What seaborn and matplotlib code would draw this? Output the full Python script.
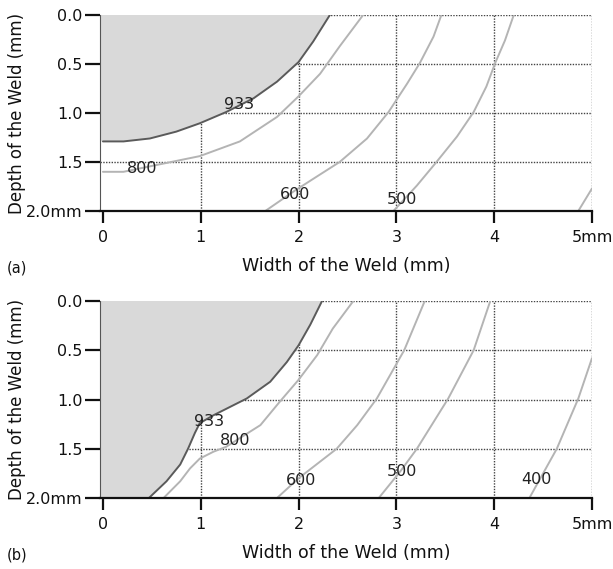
import matplotlib
matplotlib.use("Agg")
import matplotlib.pyplot as plt
import matplotlib.transforms as mtransforms
import seaborn as sns
import pandas as pd

sns.set_theme(style="white")
plt.rcParams['font.family'] = ['DejaVu Sans']

# ---- data: panel (a) ----
a933_x = [0, 0.21, 0.48, 0.75, 0.99, 1.26, 1.54, 1.78, 2.00, 2.15, 2.32]
a933_y = [1.29, 1.29, 1.26, 1.19, 1.105, 0.99, 0.85, 0.68, 0.48, 0.27, 0.0]
a800_x = [0, 0.21, 0.55, 0.99, 1.40, 1.78, 2.00, 2.22, 2.42, 2.66]
a800_y = [1.60, 1.60, 1.53, 1.44, 1.29, 1.04, 0.83, 0.60, 0.32, 0.0]
a600_x = [1.66, 1.95, 2.20, 2.42, 2.70, 2.92, 3.11, 3.24, 3.38, 3.46]
a600_y = [2.0, 1.80, 1.64, 1.50, 1.26, 0.99, 0.70, 0.49, 0.22, 0.0]
a500_x = [2.97, 3.21, 3.41, 3.62, 3.79, 3.92, 4.01, 4.11, 4.20]
a500_y = [2.0, 1.74, 1.50, 1.24, 0.99, 0.73, 0.49, 0.26, 0.0]
a400_x = [4.86, 5.0]
a400_y = [2.0, 1.77]

# ---- data: panel (b) ----
b933_x = [0.47, 0.65, 0.79, 0.87, 0.94, 0.99, 1.13, 1.33, 1.47, 1.71, 1.88, 2.00, 2.12, 2.24]
b933_y = [2.0, 1.83, 1.66, 1.50, 1.34, 1.24, 1.16, 1.06, 0.99, 0.82, 0.62, 0.45, 0.24, 0.0]
b800_x = [0.62, 0.79, 0.89, 0.99, 1.13, 1.26, 1.61, 1.81, 2.00, 2.19, 2.35, 2.56]
b800_y = [2.0, 1.83, 1.70, 1.60, 1.53, 1.48, 1.26, 1.02, 0.80, 0.55, 0.28, 0.0]
b600_x = [1.78, 2.00, 2.39, 2.60, 2.80, 3.08, 3.29]
b600_y = [2.0, 1.80, 1.50, 1.26, 0.99, 0.50, 0.0]
b500_x = [2.82, 3.04, 3.21, 3.53, 3.79, 3.96]
b500_y = [2.0, 1.73, 1.50, 0.99, 0.50, 0.0]
b400_x = [4.36, 4.64, 4.86, 5.0]
b400_y = [2.0, 1.50, 0.99, 0.58]

# curve label texts and positions
a_labels = ["933", "800", "600", "500"]
a_lab_x = [1.39, 0.40, 1.96, 3.06]
a_lab_y = [0.91, 1.57, 1.83, 1.88]
b_labels = ["933", "800", "600", "500", "400"]
b_lab_x = [1.08, 1.35, 2.03, 3.06, 4.43]
b_lab_y = [1.22, 1.42, 1.82, 1.73, 1.81]

x_ticks = [0, 1, 2, 3, 4, 5]
x_ticklabels = ["0", "1", "2", "3", "4", "5mm"]
y_ticks = [0.0, 0.5, 1.0, 1.5, 2.0]
y_ticklabels = ["0.0", "0.5", "1.0", "1.5", "2.0mm"]

XMIN = -0.03
DARK = "#5a5a5a"
LIGHT = "#b4b4b4"
FILL = "#d9d9d9"
FS = 11.5

fig = plt.figure(figsize=(6.13, 5.69), dpi=100)
ax_a = fig.add_axes([100/613, 1-211/569, 492/613, 196/569])
ax_b = fig.add_axes([100/613, 1-498/569, 492/613, 197/569])


def draw(ax, curves, labels, lx, ly, letter, flat_start):
    # dotted grid (under the fill)
    for xv in x_ticks[1:]:
        ax.axvline(xv, color="#444444", lw=1.0, ls=(0, (1, 1)), zorder=1)
    for yv in y_ticks[:-1]:
        ax.axhline(yv, color="#444444", lw=1.0, ls=(0, (1, 1)), zorder=1)
    # melt zone bounded by the 933 curve
    mx, my = curves[0]
    px = [XMIN] + list(mx) + [XMIN]
    py = ([my[0]] if flat_start else [2.0]) + list(my) + [0.0]
    ax.fill(px, py, color=FILL, zorder=2, lw=0)
    for i, (cx, cy) in enumerate(curves):
        df = pd.DataFrame({"x": cx, "y": cy})
        sns.lineplot(data=df, x="x", y="y", ax=ax, sort=False,
                     estimator=None, color=DARK if i == 0 else LIGHT,
                     lw=1.4, zorder=3)
    for t, x, y in zip(labels, lx, ly):
        ax.text(x, y, t, ha="center", va="center", fontsize=FS,
                color="#222222", zorder=4)
    ax.set_xlim(XMIN, 5.0)
    ax.set_ylim(2.0, 0.0)
    ax.set_xticks(x_ticks)
    ax.set_xticklabels(x_ticklabels)
    ax.set_yticks(y_ticks)
    ax.set_yticklabels(y_ticklabels)
    for s in ["top", "right"]:
        ax.spines[s].set_visible(False)
    ax.spines["left"].set_color("#555555")
    ax.spines["left"].set_linewidth(0.8)
    ax.spines["bottom"].set_color("#111111")
    ax.spines["bottom"].set_linewidth(1.6)
    ax.spines["bottom"].set_zorder(5)
    ax.tick_params(axis="x", length=8.5, width=1.6, color="#111111",
                   labelsize=FS, pad=5, bottom=True, labelcolor="#111111")
    ax.tick_params(axis="y", length=11, width=1.6, color="#111111",
                   labelsize=FS, pad=1.5, left=True, labelcolor="#111111")
    ax.set_xlabel("Width of the Weld (mm)", fontsize=12.5, labelpad=9,
                  color="#111111")
    ax.set_ylabel("Depth of the Weld (mm)", fontsize=12, labelpad=0,
                  color="#111111")
    ax.grid(False)
    ax.set_facecolor("white")
    tr = mtransforms.blended_transform_factory(fig.transFigure, ax.transAxes)
    ax.text(7/613, -0.29, letter, transform=tr, fontsize=10.5,
            ha="left", va="center", color="#111111")


draw(ax_a,
     [(a933_x, a933_y), (a800_x, a800_y), (a600_x, a600_y),
      (a500_x, a500_y), (a400_x, a400_y)],
     a_labels, a_lab_x, a_lab_y, "(a)", True)
draw(ax_b,
     [(b933_x, b933_y), (b800_x, b800_y), (b600_x, b600_y),
      (b500_x, b500_y), (b400_x, b400_y)],
     b_labels, b_lab_x, b_lab_y, "(b)", False)

fig.savefig("out.png", dpi=100)
